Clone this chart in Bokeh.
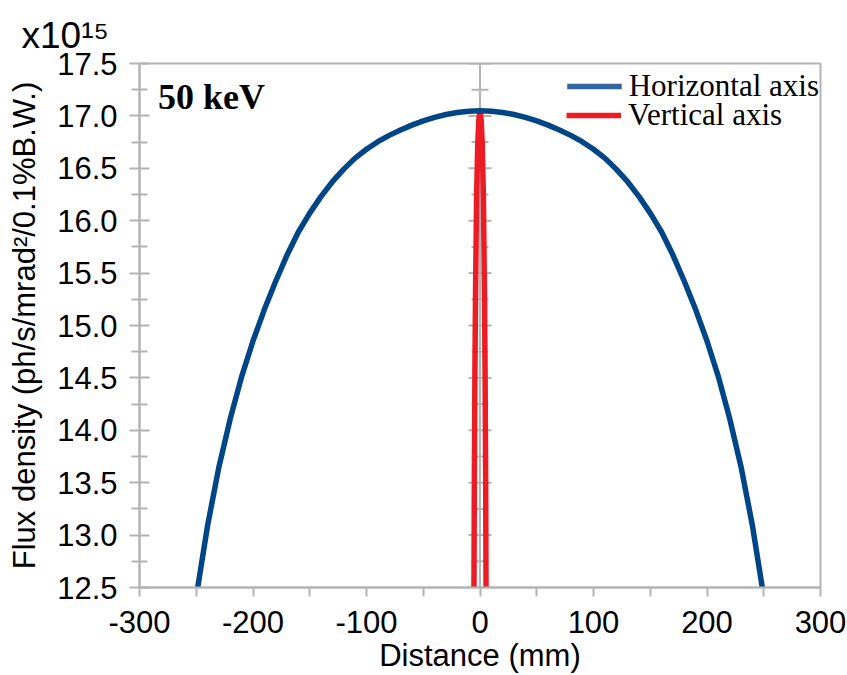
import math
from bokeh.plotting import figure
from bokeh.models import (FixedTicker, Label, Span, Legend, LegendItem,
                          PrintfTickFormatter, ColumnDataSource)
from bokeh.embed import file_html
from bokeh.resources import INLINE

# ---- data ----
h_x = [-250, -240, -230, -220, -210, -200, -190, -180, -170, -160, -150,
       -140, -130, -120, -110, -100, -90, -80, -70, -60, -50, -40, -30, -20,
       -10, 0, 10, 20, 30, 40, 50, 60, 70, 80, 90, 100, 110, 120, 130, 140,
       150, 160, 170, 180, 190, 200, 210, 220, 230, 240, 250]
h_y = [12.412, 13.092, 13.652, 14.112, 14.512, 14.852, 15.152, 15.422, 15.672,
       15.892, 16.072, 16.232, 16.372, 16.492, 16.597, 16.682, 16.754, 16.814,
       16.866, 16.912, 16.952, 16.986, 17.013, 17.033, 17.045, 17.050, 17.045,
       17.033, 17.013, 16.986, 16.952, 16.912, 16.866, 16.814, 16.754, 16.682,
       16.597, 16.492, 16.372, 16.232, 16.072, 15.892, 15.672, 15.422, 15.152,
       14.852, 14.512, 14.112, 13.652, 13.092, 12.412]

v_x = [-5.5, -5.0, -4.5, -4.0, -3.0, -2.0, -1.0, 0.0, 1.0, 2.0, 3.0, 4.0,
       4.5, 5.0, 5.5]
v_y = [11.90, 13.48, 14.51, 15.23, 16.23, 16.73, 16.97, 17.05, 16.97, 16.73,
       16.23, 15.23, 14.51, 13.48, 11.90]

x_major = [-300, -200, -100, 0, 100, 200, 300]
x_minor = [-250, -150, -50, 50, 150, 250]
y_major = [12.5, 13.0, 13.5, 14.0, 14.5, 15.0, 15.5, 16.0, 16.5, 17.0, 17.5]
y_minor = [12.75, 13.25, 13.75, 14.25, 14.75, 15.25, 15.75, 16.25, 16.75,
           17.25]

series_names = ["Horizontal axis", "Vertical axis"]
x_title = "Distance (mm)"
y_title = "Flux density (ph/s/mrad\u00b2/0.1%B.W.)"
scale_text = "x10\u00b9\u2075"
energy_text = "50 keV"

GRAY = "#b3b3b3"
BLUE = "#004586"
BLUE_LEG = "#3465a4"
RED = "#ed1c24"
SANS = "Liberation Sans"
SERIF = "Liberation Serif"

p = figure(width=847, height=675, x_range=(-300, 300), y_range=(12.5, 17.5),
           output_backend="svg", toolbar_location=None,
           min_border_left=139, min_border_right=27, min_border_top=63,
           min_border_bottom=88)
p.grid.visible = False
p.outline_line_color = GRAY
p.outline_line_width = 2
p.background_fill_color = "white"
p.border_fill_color = "white"

# "x10^15" multiplier as the title
p.title.text = scale_text
p.title.align = "left"
p.title.vertical_align = "middle"
p.title.offset = -118
p.title.standoff = 14
p.title.text_font = SANS
p.title.text_font_size = "37px"
p.title.text_font_style = "normal"
p.title.text_color = "black"

# x axis
xa = p.xaxis[0]
xa.ticker = FixedTicker(ticks=x_major, minor_ticks=x_minor)
xa.formatter = PrintfTickFormatter(format="%d")
xa.axis_line_color = GRAY
xa.axis_line_width = 2
xa.major_tick_line_color = GRAY
xa.major_tick_line_width = 2
xa.minor_tick_line_color = GRAY
xa.minor_tick_line_width = 2
xa.major_tick_in = 0
xa.major_tick_out = 9
xa.minor_tick_in = 0
xa.minor_tick_out = 9
xa.major_label_text_font = SANS
xa.major_label_text_font_size = "31px"
xa.major_label_text_color = "black"
xa.major_label_standoff = 14
xa.axis_label = x_title
xa.axis_label_text_font = SANS
xa.axis_label_text_font_size = "31px"
xa.axis_label_text_font_style = "normal"
xa.axis_label_text_color = "black"
xa.axis_label_standoff = 2

# y axis
ya = p.yaxis[0]
ya.ticker = FixedTicker(ticks=y_major, minor_ticks=y_minor)
ya.formatter = PrintfTickFormatter(format="%.1f")
ya.axis_line_color = GRAY
ya.axis_line_width = 2
ya.major_tick_line_color = GRAY
ya.major_tick_line_width = 2
ya.minor_tick_line_color = GRAY
ya.minor_tick_line_width = 2
ya.major_tick_in = 10
ya.major_tick_out = 10
ya.minor_tick_in = 8
ya.minor_tick_out = 8
ya.major_label_text_font = SANS
ya.major_label_text_font_size = "31px"
ya.major_label_text_color = "black"
ya.major_label_standoff = 12
ya.axis_label = y_title
ya.axis_label_text_font = SANS
ya.axis_label_text_font_size = "31px"
ya.axis_label_text_font_style = "normal"
ya.axis_label_text_color = "black"
ya.axis_label_standoff = 12

# axis crossing at x = 0
p.add_layout(Span(location=x_major[3], dimension="height", line_color=GRAY,
                  line_width=2, level="underlay"))
p.scatter(x=[x_major[3]] * len(y_major), y=y_major, marker="dash", size=23,
          line_color=GRAY, line_width=2, fill_color=GRAY)
p.scatter(x=[x_major[3]] * len(y_minor), y=y_minor, marker="dash", size=17,
          line_color=GRAY, line_width=2, fill_color=GRAY)

# series
red_r = p.line(v_x, v_y, line_color=RED, line_width=5.5, line_join="round")
p.line(h_x, h_y, line_color=BLUE, line_width=5.5, line_join="round")
leg_src = ColumnDataSource(data=dict(x=[math.nan], y=[math.nan]))
blue_leg = p.line("x", "y", source=leg_src, line_color=BLUE_LEG,
                  line_width=5.5)

leg_style = dict(border_line_alpha=0, background_fill_alpha=0,
                 label_text_font=SERIF, label_text_font_size="31px",
                 label_text_color="black", glyph_width=55, glyph_height=20,
                 label_height=44, label_standoff=7, padding=1, margin=0)
legend1 = Legend(items=[LegendItem(label=series_names[0],
                                   renderers=[blue_leg])],
                 location="top_right", **leg_style)
legend2 = Legend(items=[LegendItem(label=series_names[1],
                                   renderers=[red_r])],
                 location=(426, 449), **leg_style)
p.add_layout(legend1)
p.add_layout(legend2)

# energy tag
p.add_layout(Label(x=-300, y=17.5, x_offset=18.5, y_offset=-33,
                   text=energy_text, text_font=SERIF, text_font_style="bold",
                   text_font_size="36px", text_align="left",
                   text_baseline="alphabetic", text_color="black"))

open("out.html", "w").write(file_html(p, INLINE))
